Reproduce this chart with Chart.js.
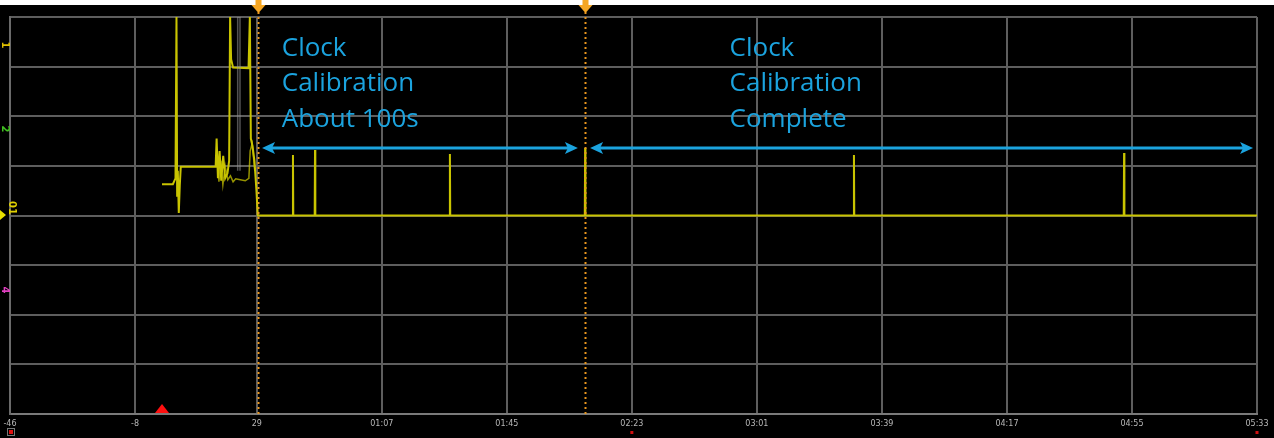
<!DOCTYPE html>
<html>
<head>
<meta charset="utf-8">
<script src="https://cdn.jsdelivr.net/npm/chart.js@4.4.1/dist/chart.umd.min.js"></script>
<style>
  html, body { margin: 0; padding: 0; background: #ffffff; }
  #wrap { width: 1274px; height: 438px; }
</style>
</head>
<body>
<div id="wrap"><canvas id="c" width="1274" height="438"></canvas></div>
<script>
// ---- data (time in seconds, value in divisions) ----
const tickValues = [-46, -8, 29, 67, 105, 143, 181, 219, 257, 295, 333];
const tickLabels = ['-46', '-8', '29', '01:07', '01:45', '02:23', '03:01', '03:39', '04:17', '04:55', '05:33'];

const signalTimes  = [0.2, 3.5, 4.3, 4.6, 4.8, 5.0, 5.3, 5.6, 5.9, 16.5, 16.8, 17.2, 17.7, 18.2, 18.8, 19.4, 20.1, 20.6, 20.9, 21.2, 21.8, 26.5, 26.9, 27.2, 27.7, 28.3, 28.9, 29.3, 29.6, 39.9, 40.0, 40.1, 46.6, 46.7, 46.8, 87.6, 87.7, 87.8, 128.7, 128.8, 128.9, 210.4, 210.5, 210.6, 292.5, 292.6, 292.7, 333];
const signalValues = [4.63, 4.63, 4.75, 8.0, 4.4, 4.9, 4.05, 4.6, 4.98, 4.98, 5.55, 4.75, 5.3, 4.7, 5.2, 4.75, 4.85, 5.1, 8.0, 7.15, 6.98, 6.97, 8.0, 5.55, 5.4, 5.1, 4.5, 4.0, 4.0, 4.0, 5.22, 4.0, 4.0, 5.32, 4.0, 4.0, 5.24, 4.0, 4.0, 5.36, 4.0, 4.0, 5.22, 4.0, 4.0, 5.26, 4.0, 4.0];

const overlayTimes  = [16.6, 17.0, 17.5, 18.1, 18.7, 19.4, 20.2, 21.0, 21.8, 22.6, 24.0, 25.5, 26.6, 27.0, 27.6, 28.4];
const overlayValues = [4.98, 5.25, 4.68, 5.1, 4.62, 5.0, 4.72, 4.8, 4.68, 4.74, 4.72, 4.7, 4.75, 5.3, 5.45, 4.9];

const ghostTimes  = [23.2, 23.2, 23.9, 23.9];
const ghostValues = [4.9, 8.0, 8.0, 4.9];

const cursorTimes = [29.4, 128.8];
const triggerTime = 0.2;

// annotations: [x start, x end, y] in data units
const spanArrows = [[30.6, 126.6, 5.36], [130.3, 331.8, 5.36]];
const noteTexts = [
  { t: 36.6, v: 7.37, lines: ['Clock', 'Calibration', 'About 100s'] },
  { t: 172.7, v: 7.37, lines: ['Clock', 'Calibration', 'Complete'] }
];

const toXY = (ts, vs) => ts.map((t, i) => ({ x: t, y: vs[i] }));

const decor = {
  id: 'decor',
  beforeDraw(chart) {
    const ctx = chart.ctx;
    ctx.save();
    ctx.fillStyle = '#ffffff';
    ctx.fillRect(0, 0, chart.width, chart.height);
    ctx.fillStyle = '#000000';
    ctx.fillRect(0, 5, chart.width, chart.height - 5);
    ctx.restore();
  },
  afterDatasetsDraw(chart) {
    const ctx = chart.ctx;
    const xs = chart.scales.x, ys = chart.scales.y;
    const area = chart.chartArea;
    ctx.save();
    // cursors
    cursorTimes.forEach(t => {
      const px = Math.round(xs.getPixelForValue(t)) + 0.5;
      ctx.strokeStyle = '#e8951f';
      ctx.lineWidth = 2;
      ctx.setLineDash([2, 3]);
      ctx.beginPath();
      ctx.moveTo(px, 12);
      ctx.lineTo(px, area.bottom);
      ctx.stroke();
      ctx.setLineDash([]);
      ctx.fillStyle = '#f5a623';
      ctx.beginPath();
      ctx.moveTo(px - 3, 0);
      ctx.lineTo(px + 3, 0);
      ctx.lineTo(px + 3, 5);
      ctx.lineTo(px + 7, 5);
      ctx.lineTo(px, 13);
      ctx.lineTo(px - 7, 5);
      ctx.lineTo(px - 3, 5);
      ctx.closePath();
      ctx.fill();
    });
    // span arrows
    ctx.strokeStyle = '#1ba3de';
    ctx.fillStyle = '#1ba3de';
    ctx.lineWidth = 3;
    spanArrows.forEach(a => {
      const x1 = xs.getPixelForValue(a[0]), x2 = xs.getPixelForValue(a[1]);
      const py = ys.getPixelForValue(a[2]);
      ctx.beginPath();
      ctx.moveTo(x1 + 8, py);
      ctx.lineTo(x2 - 8, py);
      ctx.stroke();
      ctx.beginPath();
      ctx.moveTo(x1, py); ctx.lineTo(x1 + 13, py - 6); ctx.lineTo(x1 + 10, py); ctx.lineTo(x1 + 13, py + 6); ctx.closePath();
      ctx.fill();
      ctx.beginPath();
      ctx.moveTo(x2, py); ctx.lineTo(x2 - 13, py - 6); ctx.lineTo(x2 - 10, py); ctx.lineTo(x2 - 13, py + 6); ctx.closePath();
      ctx.fill();
    });
    // notes
    ctx.font = '26px "Open Sans", sans-serif';
    ctx.textBaseline = 'middle';
    ctx.textAlign = 'left';
    ctx.fillStyle = '#1ba3de';
    noteTexts.forEach(n => {
      const px = xs.getPixelForValue(n.t);
      const py = ys.getPixelForValue(n.v);
      n.lines.forEach((s, i) => ctx.fillText(s, px, py + i * 35.5));
    });
    // trigger marker
    const tx = xs.getPixelForValue(triggerTime);
    ctx.fillStyle = '#ff1010';
    ctx.beginPath();
    ctx.moveTo(tx - 7, area.bottom - 1);
    ctx.lineTo(tx + 7, area.bottom - 1);
    ctx.lineTo(tx, area.bottom - 10);
    ctx.closePath();
    ctx.fill();
    // small red markers under axis
    ctx.fillStyle = '#d01010';
    ctx.fillRect(xs.getPixelForValue(143) - 1.5, 431, 3, 3);
    ctx.fillRect(xs.getPixelForValue(333) - 1.5, 431, 3, 3);
    ctx.strokeStyle = '#777777';
    ctx.lineWidth = 1;
    ctx.strokeRect(7.5, 428.5, 7, 7);
    ctx.fillStyle = '#e01010';
    ctx.fillRect(9, 430, 4, 4);
    // channel labels on left edge
    const chan = [['1', '#e0c000', 45], ['2', '#40c020', 129], ['4', '#e040c0', 290]];
    ctx.font = 'bold 10px "DejaVu Sans", sans-serif';
    ctx.textAlign = 'center';
    chan.forEach(c => {
      ctx.save();
      ctx.translate(5, c[2]);
      ctx.rotate(Math.PI / 2);
      ctx.fillStyle = c[1];
      ctx.fillText(c[0], 0, 0);
      ctx.restore();
    });
    ctx.save();
    ctx.translate(12, 208);
    ctx.rotate(Math.PI / 2);
    ctx.fillStyle = '#e0d000';
    ctx.fillText('01', 0, 0);
    ctx.restore();
    ctx.fillStyle = '#e8e000';
    ctx.beginPath();
    ctx.moveTo(0, 210); ctx.lineTo(6, 215); ctx.lineTo(0, 220); ctx.closePath();
    ctx.fill();
    ctx.restore();
  }
};

new Chart(document.getElementById('c'), {
  type: 'line',
  data: {
    datasets: [
      { data: toXY(ghostTimes, ghostValues), borderColor: 'rgba(150,150,150,0.55)', borderWidth: 1.5, pointRadius: 0, tension: 0 },
      { data: toXY(overlayTimes, overlayValues), borderColor: 'rgba(200,196,0,0.75)', borderWidth: 1.5, pointRadius: 0, tension: 0 },
      { data: toXY(signalTimes, signalValues), borderColor: '#c9c400', borderWidth: 2, pointRadius: 0, tension: 0 }
    ]
  },
  options: {
    responsive: false,
    devicePixelRatio: 1,
    animation: false,
    events: [],
    layout: { padding: { left: 10, right: 17, top: 17, bottom: 0 } },
    plugins: { legend: { display: false }, tooltip: { enabled: false } },
    scales: {
      x: {
        type: 'linear',
        min: -46,
        max: 333,
        afterBuildTicks: s => { s.ticks = tickValues.map(v => ({ value: v })); },
        afterFit: s => { s.height = 24; s.paddingLeft = 0; s.paddingRight = 0; },
        ticks: {
          autoSkip: false,
          maxRotation: 0,
          padding: 5,
          color: '#b8b8b8',
          font: { size: 8, family: '"DejaVu Sans", sans-serif' },
          callback: (v, i) => tickLabels[i]
        },
        grid: { color: '#5e5e5e', lineWidth: 2, drawTicks: false },
        border: { color: '#7a7a7a', width: 2 }
      },
      y: {
        min: 0,
        max: 8,
        afterFit: s => { s.width = 0; },
        ticks: { display: false, stepSize: 1 },
        grid: { color: '#5e5e5e', lineWidth: 2, drawTicks: false },
        border: { color: '#6a6a6a', width: 2 }
      }
    }
  },
  plugins: [decor]
});
</script>
</body>
</html>
